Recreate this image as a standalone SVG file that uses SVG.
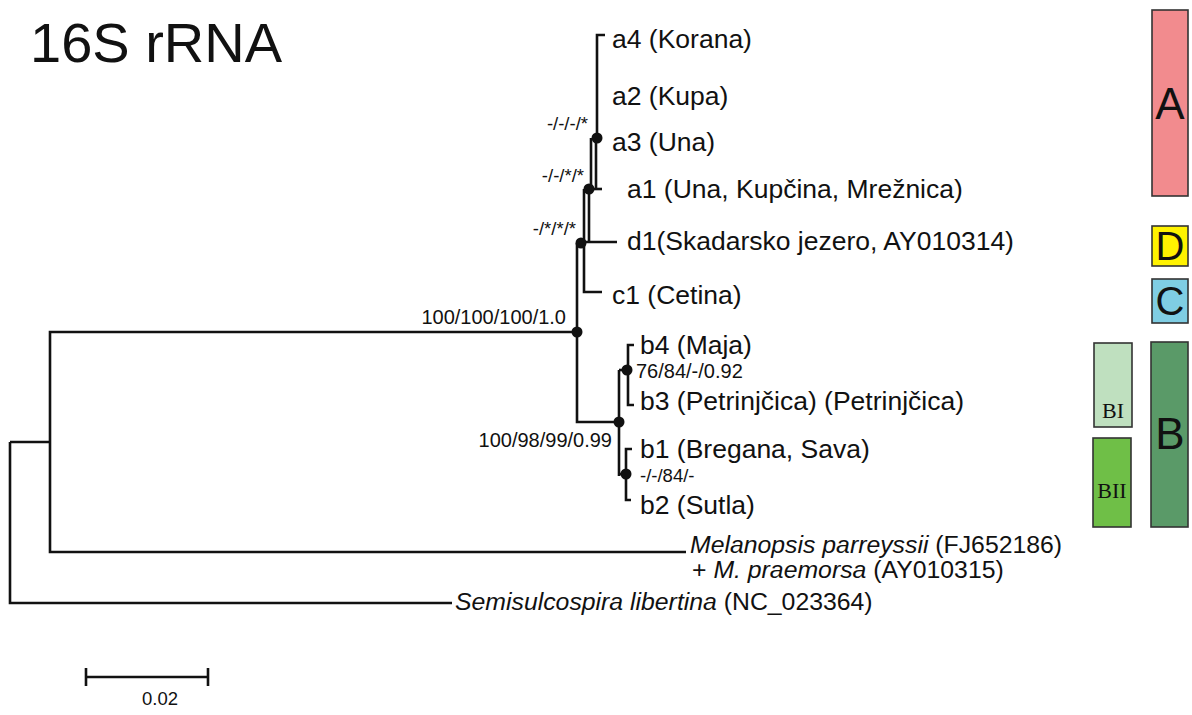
<svg xmlns="http://www.w3.org/2000/svg" width="1192" height="715" viewBox="0 0 1192 715">
<style>
text{font-family:"Liberation Sans",Arial,sans-serif;fill:#111}
.leaf{font-size:26.5px}
.out{font-size:24.8px}
.sup{font-size:20px}
.sm{font-size:18.5px}
.br{fill:none;stroke:#111;stroke-width:2.6;stroke-linecap:butt}
.dot{fill:#111}
.box{stroke:#333;stroke-width:1.6}
.big{font-size:44px;text-anchor:middle}
.mid{font-size:40px;text-anchor:middle}
.ser{font-family:"Liberation Serif","Times New Roman",serif;font-size:22px;text-anchor:middle}
</style>
<rect width="1192" height="715" fill="#fff"/>
<text x="30" y="62" style="font-size:56px">16S rRNA</text>

<g id="connectors">
<path class="br" d="M10,442 V603 H452"/>
<path class="br" d="M10,442 H50"/>
<path class="br" d="M577,332 H50 V552 H686"/>
<path class="br" d="M577,243 V422 H619"/>
<path class="br" d="M584,243 V292 H602"/>
<path class="br" d="M584,242 H617"/>
<path class="br" d="M584,189 V242"/>
<path class="br" d="M589,189 V242"/>
<path class="br" d="M589,189 H602"/>
<path class="br" d="M591,138 V189"/>
<path class="br" d="M596,138 V189"/>
<path class="br" d="M605,35 H597 V138"/>
<path class="br" d="M619,370 V476"/>
<path class="br" d="M619,370 H628"/>
<path class="br" d="M619,474 H626"/>
<path class="br" d="M634,345 H628 V405 H634"/>
<path class="br" d="M632,449 H626 V500 H631"/>
</g>

<g id="internal-nodes">
<circle class="dot" cx="577" cy="332" r="5.5"/>
<circle class="dot" cx="581" cy="243" r="5.5"/>
<circle class="dot" cx="589" cy="189" r="5.5"/>
<circle class="dot" cx="597" cy="138" r="5.5"/>
<circle class="dot" cx="619" cy="422" r="5.5"/>
<circle class="dot" cx="627" cy="370" r="5.5"/>
<circle class="dot" cx="626" cy="474" r="5.5"/>
</g>

<g id="support-values">
<text class="sm" x="588" y="130" text-anchor="end">-/-/-/*</text>
<text class="sm" x="584" y="182" text-anchor="end">-/-/*/*</text>
<text class="sm" x="576" y="235" text-anchor="end">-/*/*/*</text>
<text class="sup" x="566" y="324" text-anchor="end">100/100/100/1.0</text>
<text class="sup" x="636" y="378">76/84/-/0.92</text>
<text class="sup" x="612" y="447" text-anchor="end">100/98/99/0.99</text>
<text class="sm" x="640" y="482">-/-/84/-</text>
</g>

<g id="leaf-a4"><text class="leaf" x="612" y="48">a4 (Korana)</text></g>
<g id="leaf-a2"><text class="leaf" x="612" y="105">a2 (Kupa)</text></g>
<g id="leaf-a3"><text class="leaf" x="612" y="151">a3 (Una)</text></g>
<g id="leaf-a1"><text class="leaf" x="627" y="198">a1 (Una, Kupčina, Mrežnica)</text></g>
<g id="leaf-d1"><text class="leaf" x="627" y="250">d1(Skadarsko jezero, AY010314)</text></g>
<g id="leaf-c1"><text class="leaf" x="612" y="304">c1 (Cetina)</text></g>
<g id="leaf-b4"><text class="leaf" x="640" y="354">b4 (Maja)</text></g>
<g id="leaf-b3"><text class="leaf" x="640" y="410">b3 (Petrinjčica) (Petrinjčica)</text></g>
<g id="leaf-b1"><text class="leaf" x="640" y="458">b1 (Bregana, Sava)</text></g>
<g id="leaf-b2"><text class="leaf" x="640" y="514">b2 (Sutla)</text></g>
<g id="leaf-melanopsis">
<text class="out" x="690" y="553"><tspan font-style="italic">Melanopsis parreyssii</tspan> (FJ652186)</text>
<text class="out" x="692" y="578">+ <tspan font-style="italic">M. praemorsa</tspan> (AY010315)</text>
</g>
<g id="leaf-semisulcospira"><text class="out" x="455" y="610"><tspan font-style="italic">Semisulcospira libertina</tspan> (NC_023364)</text></g>

<g id="scale-bar">
<path class="br" d="M86,677 H208 M86,668 V686 M208,668 V686"/>
<text class="sm" x="160" y="705" text-anchor="middle">0.02</text>
</g>

<g id="clade-A"><rect class="box" x="1152" y="10" width="36" height="186" fill="#f28b8e"/><text class="big" x="1170" y="119">A</text></g>
<g id="clade-D"><rect class="box" x="1152" y="226" width="36" height="40" fill="#fff200"/><text class="mid" x="1170" y="260">D</text></g>
<g id="clade-C"><rect class="box" x="1152" y="279" width="36" height="44" fill="#7fcde3"/><text class="mid" x="1170" y="315">C</text></g>
<g id="clade-B"><rect class="box" x="1151" y="342" width="37" height="185" fill="#5a9a68"/><text class="big" x="1170" y="449">B</text></g>
<g id="clade-BI"><rect class="box" x="1094" y="343" width="38" height="84" fill="#bfe0bf"/><text class="ser" x="1113" y="418">BI</text></g>
<g id="clade-BII"><rect class="box" x="1093" y="438" width="38" height="89" fill="#6fbf47"/><text class="ser" x="1112" y="498">BII</text></g>
</svg>
